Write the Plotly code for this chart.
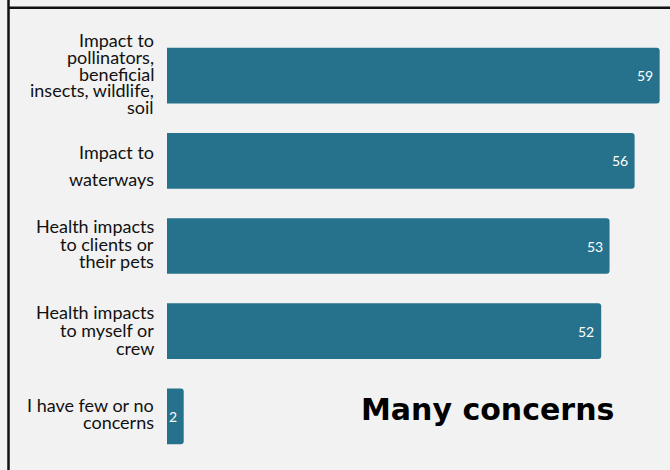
import plotly.graph_objects as go

# Survey responses: main concerns about pesticide use
categories = [
    "Impact to pollinators, beneficial insects, wildlife, soil",
    "Impact to waterways",
    "Health impacts to clients or their pets",
    "Health impacts to myself or crew",
    "I have few or no concerns",
]
values = [59, 56, 53, 52, 2]
label_lines = [
    ["Impact to", "pollinators,", "beneficial", "insects, wildlife,", "soil"],
    ["Impact to", "waterways"],
    ["Health impacts", "to clients or", "their pets"],
    ["Health impacts", "to myself or", "crew"],
    ["I have few or no", "concerns"],
]
callout = "Many concerns"

# Per-label line spacing and vertical nudge (px)
line_step = [16.8, 26.7, 17.6, 18.0, 17.6]
block_shift = [-2.0, 4.5, -2.5, -1.5, -3.0]

BAR = "#26718b"
BG = "#f2f2f2"
LABEL_FONT = "Lato"

fig = go.Figure(
    go.Bar(
        x=values,
        y=categories,
        orientation="h",
        marker=dict(color=BAR, cornerradius=3, line=dict(width=0)),
        hoverinfo="skip",
    )
)

annotations = []
for cat, lines, step, shift in zip(categories, label_lines, line_step, block_shift):
    n = len(lines)
    for i, line in enumerate(lines):
        off = shift + (i - (n - 1) / 2) * step
        annotations.append(
            dict(
                x=0, xref="x", xanchor="right", xshift=-11,
                y=cat, yref="y", yanchor="middle", yshift=-off,
                text=line, showarrow=False,
                font=dict(family=LABEL_FONT, size=18, color="#111111"),
            )
        )

# Value labels just inside the end of each bar
for cat, v in zip(categories, values):
    annotations.append(
        dict(
            x=v, xref="x", xanchor="right", xshift=-5,
            y=cat, yref="y", yanchor="middle",
            text=str(v), showarrow=False,
            font=dict(family="Lato", size=14, color="white"),
        )
    )

annotations.append(
    dict(
        x=0.64, xref="paper", xanchor="center",
        y=0.115, yref="paper", yanchor="middle",
        text="<b>" + callout + "</b>", showarrow=False,
        font=dict(family="DejaVu Sans", size=30, color="#000000"),
    )
)

# Frame lines along the top and left edges of the slide
plot_l, plot_w = 167, 501
plot_t, plot_h = 31, 428
def px_x(p):
    return (p - plot_l) / plot_w
def px_y(p):
    return (plot_t + plot_h - p) / plot_h

shapes = [
    dict(type="line", xref="paper", yref="paper",
         x0=px_x(8.5), x1=px_x(670), y0=px_y(7.8), y1=px_y(7.8),
         line=dict(color="#111111", width=2.5)),
    dict(type="line", xref="paper", yref="paper",
         x0=px_x(8.5), x1=px_x(8.5), y0=px_y(0), y1=px_y(470),
         line=dict(color="#111111", width=2.5)),
]

fig.update_layout(
    width=670, height=470,
    margin=dict(l=plot_l, r=670 - plot_l - plot_w, t=plot_t, b=470 - plot_t - plot_h, pad=0),
    paper_bgcolor=BG, plot_bgcolor=BG,
    bargap=0.346,
    showlegend=False,
    annotations=annotations,
    shapes=shapes,
    xaxis=dict(range=[0, 60], visible=False, fixedrange=True),
    yaxis=dict(categoryorder="array", categoryarray=categories, autorange="reversed",
               showticklabels=False, showgrid=False, zeroline=False, fixedrange=True),
)

fig.write_html("out.html")
